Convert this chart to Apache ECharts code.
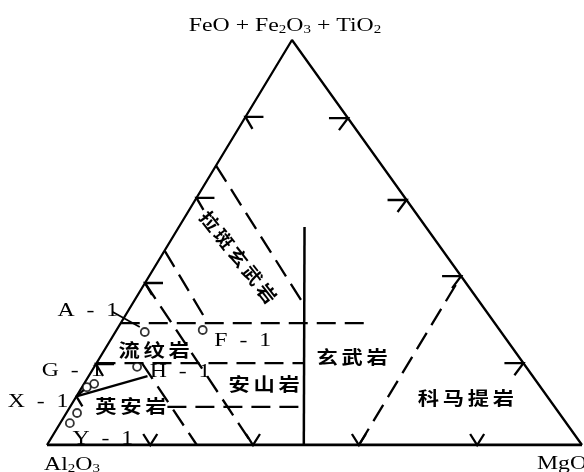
<!DOCTYPE html>
<html>
<head>
<meta charset="utf-8">
<script src="https://cdn.jsdelivr.net/npm/echarts@6/dist/echarts.min.js"></script>
<style>
  html, body { margin: 0; padding: 0; background: #fff; }
  #chart { width: 584px; height: 472px; }
</style>
</head>
<body>
<div id="chart"></div>
<script>
// Jensen-style cation ternary plot.
// Every composition is written as [Al2O3, FeO+Fe2O3+TiO2, MgO] in percent.

// ---- data -------------------------------------------------------------
const corners = [[100, 0, 0], [0, 100, 0], [0, 0, 100]];

const leftTicksFe = [20, 40, 61, 81];
const rightTicksFe = [20.2, 41.7, 60.5, 80.7];
const bottomTicksMg = [19.3, 38.5, 58.3, 80.4];

// field boundaries
const basaltBoundary = [[52, 0, 48], [22.7, 53.8, 23.5]];          // solid
const rhyoliteDaciteDivide = [[88, 12, 0], [72, 17, 11]];          // solid
const komatiiteBoundary = [[41.7, 0, 58.3], [0, 41.7, 58.3]];
const tholeiiteUpper = [[31, 69, 0], [33.2, 34.6, 32.2]];
const tholeiiteLower = [[52, 48, 0], [53.6, 30.1, 16.3]];
const fe30Boundary = [[69.9, 30.1, 0], [24.3, 30.1, 45.6]];
const fe20Boundary = [[79.8, 20.2, 0], [41, 20.2, 38.8]];
const fe9Boundary = [[72.4, 9.4, 18.2], [46.9, 9.4, 43.7]];
const al60Boundary = [[60, 40, 0], [61.5, 0, 38.5]];
const al72Boundary = [[71.3, 20.2, 8.5], [72, 0, 28]];

// field names and where they sit
const fieldNames = ['流纹岩', '英安岩', '安山岩', '玄武岩', '科马提岩', '拉斑玄武岩'];
const fieldAt = [
  [67.3, 23.5, 9.3], [79.1, 9.6, 11.3], [51.3, 15.1, 33.7],
  [31.2, 21.7, 47.1], [15.4, 11.6, 73.0], [39.1, 46.4, 14.5]
];

// samples (the second G-1 point has no name of its own)
const sampleNames = ['A-1', 'F-1', 'H-1', 'G-1', 'X-1', 'Y-1', ''];
const sampleComp = [
  [66.6, 27.9, 5.5], [55.5, 28.4, 16.1], [72.7, 19.3, 8.0],
  [83.0, 15.1, 1.9], [90.1, 7.9, 2.0], [92.8, 5.4, 1.8], [85.0, 14.3, 0.9]
];

// ---- layout & style --------------------------------------------------
const APEX_SHIFT = 245 / 535;      // apex position along the base
const GRID = { left: 47, right: 2, top: 40, bottom: 27 };
const INK = '#000';
const DASH = [19, 9];
const LW = 2.3;
const SERIF = '"Liberation Serif", "DejaVu Serif", serif';
const CJK = '"Noto Sans CJK SC", sans-serif';
const STRETCH = 1.25;

const fieldStyle = { fontSize: 18, advance: 25, tilt: [0, 0, 0, 0, 0, -51.8], advanceTilted: 23 };
const sampleLabelOffset = [[-57, -21], [40, 11], [43, 5], [-22, -13], [-39, -11], [33, 16], [0, 0]];
const cornerLabelOffset = [[25, 20], [-7, -14], [-20, 19]];
const cornerLabelText = [
  '{n|Al}{s|2}{n|O}{s|3}',
  '{n|FeO + Fe}{s|2}{n|O}{s|3}{n| + TiO}{s|2}',
  '{n|MgO}'
];

// ---- helpers ---------------------------------------------------------
function toXY(p) {
  const s = p[0] + p[1] + p[2];
  const fe = p[1] / s * 100, mg = p[2] / s * 100;
  return [mg + fe * APEX_SHIFT, fe];
}

function pathSeries(points, dashed, width) {
  return {
    type: 'line',
    data: points.map(toXY),
    symbol: 'none',
    silent: true,
    z: 2,
    lineStyle: { color: INK, width: width || LW, type: dashed ? DASH : 'solid', cap: 'butt' }
  };
}

// arrow-like tick glyphs: left edge, right edge, base, divide-line head
const tickGlyphs = [
  [[18, 0], [0, 0], [7, 12]],
  [[-19, 0], [0, 0], [-9, 12]],
  [[-7, -11], [0, 0], [7, -11]],
  [[8, -7], [0, 0], [6, 10]]
];
const tickData = []
  .concat(leftTicksFe.map(v => toXY([100 - v, v, 0]).concat(0)))
  .concat(rightTicksFe.map(v => toXY([0, v, 100 - v]).concat(1)))
  .concat(bottomTicksMg.map(v => toXY([100 - v, 0, v]).concat(2)))
  .concat([toXY(rhyoliteDaciteDivide[0]).concat(3)]);

const chart = echarts.init(document.getElementById('chart'), null, { renderer: 'canvas' });

const option = {
  animation: false,
  backgroundColor: '#fff',
  grid: GRID,
  xAxis: { type: 'value', min: 0, max: 100, show: false },
  yAxis: { type: 'value', min: 0, max: 100, show: false },
  series: [
    // triangle
    pathSeries([corners[0], corners[1], corners[2]], false, LW),
    pathSeries([corners[0], corners[2]], false, 3),
    // boundaries
    pathSeries(basaltBoundary, false, 2.5),
    pathSeries(rhyoliteDaciteDivide, false, LW),
    pathSeries(komatiiteBoundary, true),
    pathSeries(tholeiiteUpper, true),
    pathSeries(tholeiiteLower, true),
    pathSeries(fe30Boundary, true),
    pathSeries(fe20Boundary, true),
    pathSeries(fe9Boundary, true),
    pathSeries(al60Boundary, true),
    pathSeries(al72Boundary, true),
    // edge ticks
    {
      type: 'custom',
      data: tickData,
      silent: true,
      z: 3,
      renderItem: (params, api) => {
        const c = api.coord([api.value(0), api.value(1)]);
        const g = tickGlyphs[api.value(2)];
        return {
          type: 'polyline',
          shape: { points: g.map(d => [c[0] + d[0], c[1] + d[1]]) },
          style: { stroke: INK, lineWidth: LW, fill: 'none' }
        };
      }
    },
    // samples
    {
      type: 'scatter',
      data: sampleComp.map(toXY),
      symbol: 'circle',
      symbolSize: 8,
      silent: true,
      z: 5,
      itemStyle: { color: '#fff', borderColor: INK, borderWidth: 1.8 }
    },
    // sample names
    {
      type: 'custom',
      data: sampleComp.map(toXY),
      silent: true,
      z: 6,
      renderItem: (params, api) => {
        const i = params.dataIndex;
        const c = api.coord([api.value(0), api.value(1)]);
        const o = sampleLabelOffset[i];
        const children = [{
          type: 'text', x: c[0] + o[0], y: c[1] + o[1], scaleX: STRETCH,
          style: {
            text: sampleNames[i].replace('-', '\u2002-\u2002'), fill: INK,
            fontFamily: SERIF, fontSize: 19,
            align: 'center', verticalAlign: 'middle'
          }
        }];
        if (i === 0) {
          children.push({
            type: 'line',
            shape: { x1: c[0] - 32, y1: c[1] - 20, x2: c[0] - 5, y2: c[1] - 5 },
            style: { stroke: INK, lineWidth: 1.8 }
          });
        }
        return { type: 'group', children };
      }
    },
    // field names
    {
      type: 'custom',
      data: fieldAt.map(toXY),
      silent: true,
      z: 6,
      renderItem: (params, api) => {
        const i = params.dataIndex;
        const c = api.coord([api.value(0), api.value(1)]);
        const chars = Array.from(fieldNames[i]);
        const tilt = fieldStyle.tilt[i];
        const adv = tilt ? fieldStyle.advanceTilted : fieldStyle.advance;
        return {
          type: 'group', x: c[0], y: c[1], rotation: tilt * Math.PI / 180,
          children: chars.map((ch, k) => ({
            type: 'text', x: (k - (chars.length - 1) / 2) * adv, y: 0,
            scaleX: tilt ? 1.1 : 1.18,
            style: {
              text: ch, fill: INK, fontFamily: CJK, fontSize: fieldStyle.fontSize,
              fontWeight: 'bold', align: 'center', verticalAlign: 'middle'
            }
          }))
        };
      }
    },
    // corner names
    {
      type: 'custom',
      data: corners.map(toXY),
      silent: true,
      z: 6,
      renderItem: (params, api) => {
        const i = params.dataIndex;
        const c = api.coord([api.value(0), api.value(1)]);
        const o = cornerLabelOffset[i];
        return {
          type: 'text', x: c[0] + o[0], y: c[1] + o[1], scaleX: STRETCH,
          style: {
            text: cornerLabelText[i], fill: INK, fontFamily: SERIF,
            align: 'center', verticalAlign: 'middle',
            rich: {
              n: { fontFamily: SERIF, fontSize: 19, lineHeight: 20, verticalAlign: 'bottom', fill: INK },
              s: { fontFamily: SERIF, fontSize: 12, lineHeight: 10, verticalAlign: 'bottom', fill: INK }
            }
          }
        };
      }
    }
  ]
};

chart.setOption(option);
</script>
</body>
</html>
